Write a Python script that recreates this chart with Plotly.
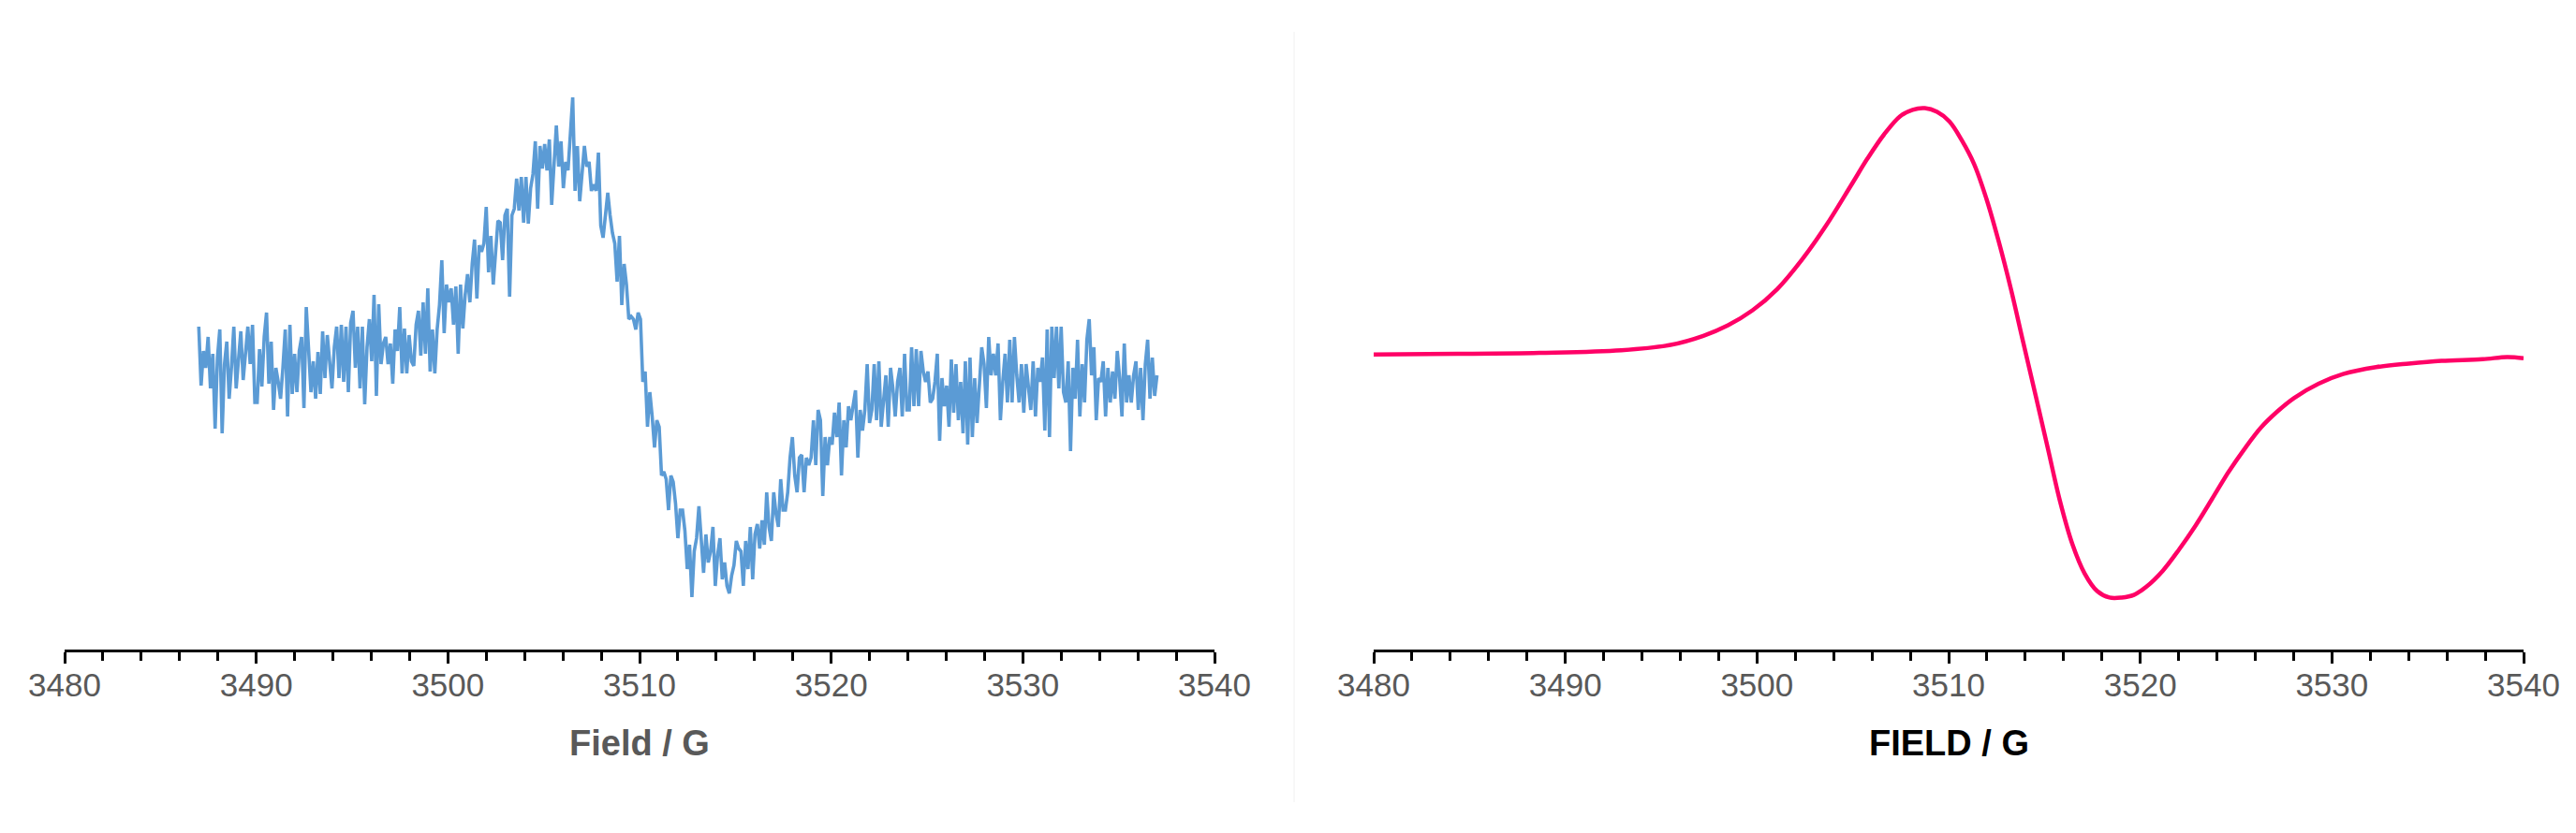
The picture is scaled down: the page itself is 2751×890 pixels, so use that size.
# EPR spectra - experimental (noisy) vs simulated, side by side

import numpy as np
import plotly.graph_objects as go
from plotly.subplots import make_subplots

# Experimental trace: field sweep 3487-3537 G, intensity in arbitrary units
sweep_start = 3487
sweep_end = 3537
exp_intensity = [
    53, -10, 27, 9, 42, -13, 24, -56, 20, 50, -61, 13, 37, -24, 10, 53, -13, 18, 48, -4,
    30, 53, 13, 55, -28, -28, 29, -11, 42, 68, -8, 37, -36, 9, -6, -24, 9, 50, -43, 55,
    -19, 24, -17, 27, 42, -34, 74, 33, -17, 16, -24, 26, -19, 48, -2, 44, 10, -13, 31, 53,
    -2, 55, -6, 53, -17, 57, 70, 9, 53, -13, 53, -30, 31, 61, 16, 87, -21, 77, 13,
    35, 42, 13, 35, -8, 50, 27, 74, 3, 51, 3, 44, 16, 11, 55, 70, 22, 79, 24, 94,
    5, 50, 3, 50, 76, 124, 46, 98, 79, 94, 55, 96, 24, 98, 51, 87, 109, 79, 120, 146,
    83, 140, 133, 142, 181, 111, 150, 98, 139, 166, 164, 124, 172, 179, 85, 172, 179, 211, 177, 213,
    164, 213, 163, 201, 216, 251, 179, 246, 222, 248, 220, 253, 183, 231, 268, 224, 251, 201, 229, 220,
    257, 298, 198, 246,
    187, 216, 246, 224, 229, 198, 205, 198, 239, 161, 148, 172, 196, 172, 153, 142, 101, 150, 76, 120,
    98, 61, 64, 61, 50, 68, 61, -6, 5, -54, -17, -43, -76, -47, -54, -106, -102, -110, -143, -106,
    -113, -136, -173, -143, -143, -165, -206, -180, -236, -187, -173, -139, -176, -210, -169, -199, -187, -161, -224, -191,
    -173, -217, -199, -224, -232, -213, -202, -176, -184, -187, -224, -176, -206, -161, -217, -169, -158, -184, -154, -180,
    -124, -161, -176, -124, -147,
    -161, -110, -143, -143, -124, -87, -65, -106, -124, -87, -84, -124, -87, -95, -87, -47, -95, -36, -47, -128,
    -65, -95, -65, -73, -39, -65, -28, -106, -47, -76, -32, -47, -28, -15, -87, -36, -58, -36, 13, -50,
    -36, 13, -47, 16, -54, -24, 1, -54, 9, -13, -43, -6, 9, -43, 24, -36, -36, 31, -32, 29,
    -32, 27, 5, -6, 5, -28, -24, -6, 24, -69, -2, -32, -10, -54, 18, -39, 13, -47, -6, -61,
    16, -73, 20, -65, -2,
    -50, -10, 31, 13, -34, 42, 1, 24, 1, 35, -47, -6, 24, -28, 39, -28, 42, 1, -28, 13,
    -39, 13, -13, -36, 16, -43, 9, -6, 20, -58, 50, -65, 53, -2, 53, -13, 53, -17, -28, 16,
    -80, 9, -24, 39, -43, 13, -28, 39, 61, 1, 31, -47, -2, -6, 16, -43, 9, -28, 5, -24,
    27, -2, -43, 35, -28, 1, -28, 1, 16, -36, 9, -47, 13, 39, -24, 20, -21, 1,
]
exp_field = np.linspace(sweep_start, sweep_end, len(exp_intensity))

# Simulated trace
sim_field = [
    3480.0, 3484.37, 3488.64, 3492.92, 3495.49, 3497.20, 3498.49, 3499.77, 3501.06, 3502.34,
    3503.62, 3504.91, 3505.76, 3506.62, 3507.47, 3508.12, 3508.76, 3509.40, 3510.04, 3510.68,
    3511.33, 3511.97, 3512.61, 3513.25, 3513.89, 3514.54, 3515.18, 3515.82, 3516.46, 3517.10,
    3517.75, 3518.39, 3519.03, 3519.67, 3520.31, 3521.17, 3522.02, 3522.88, 3523.74, 3524.59,
    3525.45, 3526.31, 3527.16, 3528.02, 3529.30, 3530.58, 3532.30, 3534.01, 3535.72, 3537.86,
    3539.14, 3540.0,
]
sim_intensity = [
    23.3, 23.9, 25.0, 27.8, 33.5, 43.2, 54.5, 70.5, 93.2, 124.4,
    161.4, 204.0, 232.4, 258.0, 277.8, 284.7, 286.4, 282.4, 272.2, 252.3,
    226.7, 189.8, 144.3, 93.2, 36.4, -20.5, -77.3, -134.1, -179.5, -210.8,
    -229.5, -236.4, -236.4, -233.6, -225.0, -207.9, -185.2, -159.7, -131.3, -102.8,
    -77.3, -54.5, -37.5, -23.3, -8.0, 2.3, 9.7, 13.6, 16.5, 18.2,
    20.5, 19.3,
]

axis_titles = ["Field / G", "FIELD / G"]
field_range = [3480, 3540]

W, H = 2751, 890
font_family = "Liberation Sans, Arial, sans-serif"
axis_y = 686      # pixel row of the x axis line
top_y = 86

fig = make_subplots(rows=1, cols=2)

fig.add_trace(go.Scatter(x=exp_field, y=exp_intensity, mode="lines",
                         line=dict(color="#5B9BD5", width=3.6), showlegend=False), row=1, col=1)
fig.add_trace(go.Scatter(x=sim_field, y=sim_intensity, mode="lines",
                         line=dict(color="#FF0066", width=4.5, shape="spline"),
                         showlegend=False), row=1, col=2)

x_common = dict(
    range=field_range, showgrid=False, zeroline=False, automargin=False,
    showline=True, linecolor="black", linewidth=3,
    ticks="outside", ticklen=12, tickwidth=3, tickcolor="black",
    dtick=10, tick0=3480, ticklabelstandoff=-7,
    tickfont=dict(family=font_family, size=35, color="#595959"),
    minor=dict(dtick=2, ticks="outside", ticklen=9, tickwidth=3, tickcolor="black"),
)
y_common = dict(visible=False, range=[-292, 308], automargin=False)

fig.update_layout(
    width=W, height=H,
    margin=dict(l=0, r=0, t=0, b=0),
    plot_bgcolor="white", paper_bgcolor="white",
    xaxis=dict(domain=[61 / W, 1289 / W], **x_common),
    xaxis2=dict(domain=[1459 / W, 2687 / W], **x_common),
    yaxis=dict(domain=[(H - axis_y) / H, (H - top_y) / H], **y_common),
    yaxis2=dict(domain=[(H - axis_y) / H, (H - top_y) / H], **y_common),
)

# axis titles
fig.add_annotation(text="<b>" + axis_titles[0] + "</b>", xref="x domain", yref="paper",
                   x=0.5, y=(H - 786) / H, showarrow=False, yanchor="middle",
                   font=dict(family=font_family, size=38, color="#595959"))
fig.add_annotation(text="<b>" + axis_titles[1] + "</b>", xref="x2 domain", yref="paper",
                   x=0.5, y=(H - 786) / H, showarrow=False, yanchor="middle",
                   font=dict(family=font_family, size=38, color="black"))

# faint divider between the two panels
fig.add_shape(type="line", xref="paper", yref="paper",
              x0=1374 / W, x1=1374 / W, y0=(H - 849) / H, y1=(H - 26) / H,
              line=dict(color="#F0F0F0", width=1))

fig.write_html("out.html")
